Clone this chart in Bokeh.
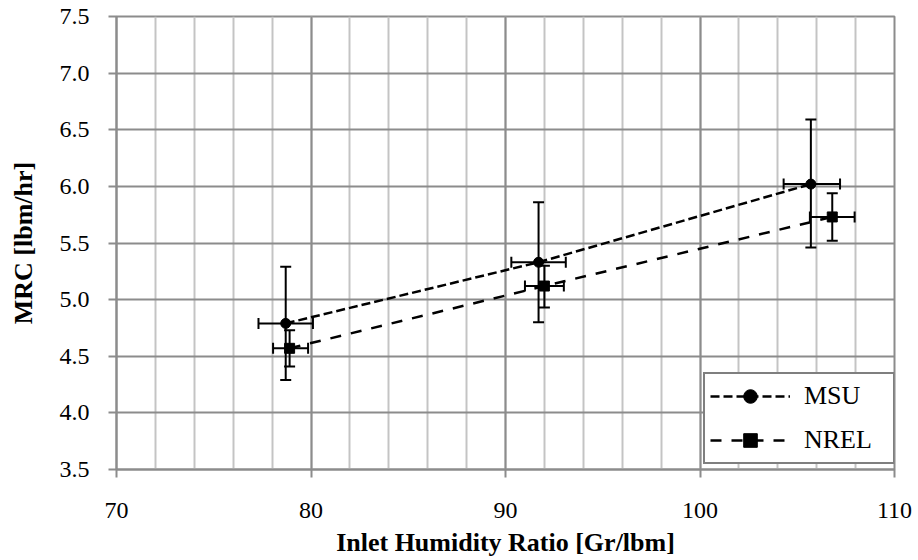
from bokeh.plotting import figure
from bokeh.models import (ColumnDataSource, Range1d, SingleIntervalTicker, Whisker,
                          TeeHead, Legend, LegendItem, NumeralTickFormatter)
from bokeh.embed import file_html
from bokeh.resources import INLINE

# ---- data ----
series_names = ["MSU", "NREL"]

msu_x = [78.7, 91.7, 105.7]
msu_y = [4.79, 5.33, 6.02]
msu_x_lo = [77.3, 90.3, 104.3]
msu_x_hi = [80.1, 93.1, 107.2]
msu_y_lo = [4.29, 4.80, 5.46]
msu_y_hi = [5.29, 5.86, 6.59]

nrel_x = [78.9, 92.0, 106.8]
nrel_y = [4.57, 5.12, 5.73]
nrel_x_lo = [78.05, 91.0, 105.65]
nrel_x_hi = [79.85, 93.0, 107.95]
nrel_y_lo = [4.41, 4.93, 5.52]
nrel_y_hi = [4.73, 5.30, 5.94]

x_title = "Inlet Humidity Ratio [Gr/lbm]"
y_title = "MRC [lbm/hr]"

FONT = "Liberation Serif"
MAJOR_GRID = "#8c8c8c"
MINOR_GRID = "#c4c4c4"

p = figure(width=918, height=560, output_backend="svg", toolbar_location=None,
           x_range=Range1d(70, 110), y_range=Range1d(3.5, 7.5),
           min_border_left=116, min_border_right=24, min_border_top=16,
           min_border_bottom=91)
p.background_fill_color = "white"
p.border_fill_color = "white"
p.outline_line_color = MAJOR_GRID
p.outline_line_width = 2

xt = SingleIntervalTicker(interval=10, num_minor_ticks=5)
yt = SingleIntervalTicker(interval=0.5, num_minor_ticks=0)
p.xaxis.ticker = xt
p.yaxis.ticker = yt
p.xgrid.ticker = xt
p.ygrid.ticker = yt

p.xgrid.grid_line_color = MAJOR_GRID
p.xgrid.grid_line_width = 2
p.xgrid.minor_grid_line_color = MINOR_GRID
p.xgrid.minor_grid_line_width = 2
p.ygrid.grid_line_color = MAJOR_GRID
p.ygrid.grid_line_width = 2

p.yaxis.formatter = NumeralTickFormatter(format="0.0")
p.xaxis.formatter = NumeralTickFormatter(format="0")

for ax in (p.xaxis, p.yaxis):
    ax.axis_line_color = MAJOR_GRID
    ax.axis_line_width = 2
    ax.major_tick_line_color = MAJOR_GRID
    ax.major_tick_line_width = 2
    ax.major_tick_out = 8
    ax.major_tick_in = 0
    ax.minor_tick_line_color = None
    ax.major_label_text_font = FONT
    ax.major_label_text_font_size = "24px"
    ax.major_label_text_color = "black"
    ax.axis_label_text_font = FONT
    ax.axis_label_text_font_size = "26px"
    ax.axis_label_text_font_style = "bold"
    ax.axis_label_text_color = "black"

p.xaxis.axis_label = x_title
p.yaxis.axis_label = y_title
p.xaxis.major_label_standoff = 25
p.xaxis.axis_label_standoff = 7
p.yaxis.major_label_standoff = 19
p.yaxis.axis_label_standoff = 19

msu = ColumnDataSource(dict(x=msu_x, y=msu_y, xl=msu_x_lo, xu=msu_x_hi,
                            yl=msu_y_lo, yu=msu_y_hi))
nrel = ColumnDataSource(dict(x=nrel_x, y=nrel_y, xl=nrel_x_lo, xu=nrel_x_hi,
                             yl=nrel_y_lo, yu=nrel_y_hi))

# connecting lines
l_msu = p.line("x", "y", source=msu, line_color="black", line_width=2.5, line_dash="9 4")
l_nrel = p.line("x", "y", source=nrel, line_color="black", line_width=2.5, line_dash="11 10")

# error bars
for src in (msu, nrel):
    p.add_layout(Whisker(source=src, base="x", lower="yl", upper="yu", dimension="height",
                         line_color="black", line_width=2, level="overlay",
                         upper_head=TeeHead(size=11, line_width=2, line_color="black"),
                         lower_head=TeeHead(size=11, line_width=2, line_color="black")))
    p.add_layout(Whisker(source=src, base="y", lower="xl", upper="xu", dimension="width",
                         line_color="black", line_width=2, level="overlay",
                         upper_head=TeeHead(size=11, line_width=2, line_color="black"),
                         lower_head=TeeHead(size=11, line_width=2, line_color="black")))

m_msu = p.scatter("x", "y", source=msu, marker="circle", size=10,
                  fill_color="black", line_color="black")
m_nrel = p.scatter("x", "y", source=nrel, marker="square", size=10,
                   fill_color="black", line_color="black")

legend = Legend(items=[LegendItem(label=series_names[0], renderers=[l_msu, m_msu]),
                       LegendItem(label=series_names[1], renderers=[l_nrel, m_nrel])],
                location=(587, 5), padding=5, spacing=10,
                glyph_width=80, glyph_height=34, label_height=34, label_width=84,
                label_standoff=14,
                label_text_font=FONT, label_text_font_size="26px",
                label_text_color="black",
                border_line_color="black", border_line_width=2,
                background_fill_color="white", background_fill_alpha=1.0)
p.add_layout(legend, "center")

open("out.html", "w").write(file_html(p, INLINE))
